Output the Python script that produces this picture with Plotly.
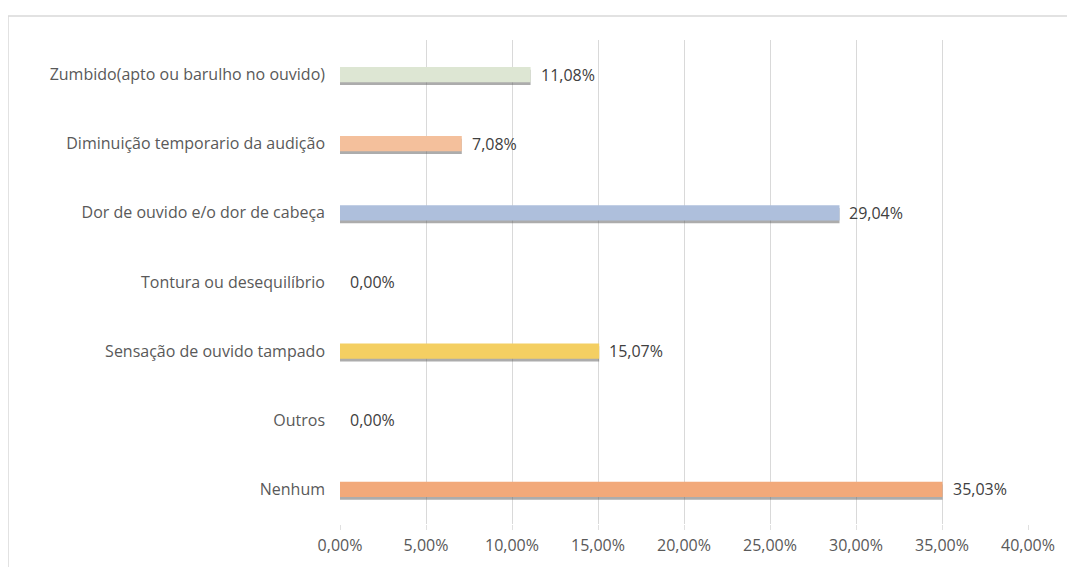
import plotly.graph_objects as go

categories = ["Nenhum", "Outros", "Sensação de ouvido tampado", "Tontura ou desequilíbrio",
              "Dor de ouvido e/o dor de cabeça", "Diminuição temporario da audição",
              "Zumbido(apto ou barulho no ouvido)"]
values = [35.03, 0.00, 15.07, 0.00, 29.04, 7.08, 11.08]
colors = ["#f2a97a", "#d9d9d9", "#f4cf62", "#d9d9d9", "#aebfdc", "#f4c09c", "#dde6d3"]
labels = [f"{v:.2f}%".replace(".", ",") for v in values]
tick_vals = [0, 5, 10, 15, 20, 25, 30, 35, 40]
tick_text = [f"{v:.2f}%".replace(".", ",") for v in tick_vals]

FONT = "Open Sans, Liberation Sans"
# page body has an 8px margin, so the figure is laid out 8px smaller/shifted
W, H = 1067, 559
L, R, T, B = 332, 47, 32, 43
PW, PH = W - L - R, H - T - B

fig = go.Figure()
# soft shadow under bars
fig.add_trace(go.Bar(
    y=categories, x=values, orientation="h",
    marker=dict(color="rgba(90,90,90,0.5)", line=dict(width=0)),
    width=0.22, offset=-0.15, hoverinfo="skip",
))
fig.add_trace(go.Bar(
    y=categories, x=values, orientation="h",
    marker=dict(color=colors, line=dict(width=0)),
    width=0.22, offset=-0.11,
))

annotations = [
    dict(x=v, y=c, text=t, xref="x", yref="y", xanchor="left", yanchor="middle",
         xshift=8, showarrow=False, font=dict(family=FONT, size=16, color="#404040"))
    for c, v, t in zip(categories, values, labels)
]

fig.update_layout(
    width=W, height=H,
    margin=dict(l=L, r=R, t=T, b=B, autoexpand=False),
    paper_bgcolor="white", plot_bgcolor="white",
    showlegend=False, barmode="overlay",
    xaxis=dict(range=[0, 40], tickvals=tick_vals, ticktext=tick_text,
               showgrid=True, gridcolor="#d9d9d9", gridwidth=1, zeroline=False,
               ticks="outside", ticklen=5, tickcolor="#e0e0e0", automargin=False,
               ticklabelstandoff=2,
               tickfont=dict(family=FONT, size=16, color="#595959")),
    yaxis=dict(categoryorder="array", categoryarray=categories,
               showgrid=False, zeroline=False, ticks="", automargin=False,
               ticklabelstandoff=14,
               tickfont=dict(family=FONT, size=16, color="#595959")),
    annotations=annotations,
    shapes=[dict(type="rect", xref="paper", yref="paper",
                 x0=(0 - L) / PW, x1=1.0 + 60 / PW, y0=-60 / PH, y1=1 + (T - 8) / PH,
                 line=dict(color="#d9d9d9", width=1.5))],
)

fig.write_html("out.html")
